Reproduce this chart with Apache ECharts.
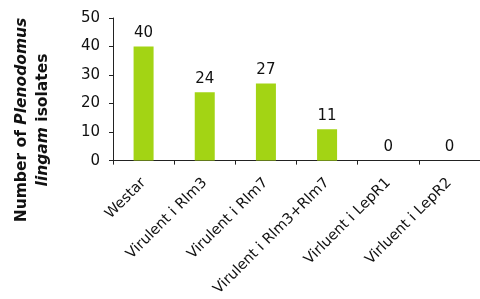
<!DOCTYPE html>
<html>
<head>
<meta charset="utf-8">
<script src="https://cdn.jsdelivr.net/npm/echarts@6/dist/echarts.min.js"></script>
<style>
  html, body { margin: 0; padding: 0; background: #fff; }
  #chart { width: 480px; height: 299px; }
</style>
</head>
<body>
<div id="chart"></div>
<script>
var categories = ['Westar', 'Virulent i Rlm3', 'Virulent i Rlm7', 'Virulent i Rlm3+Rlm7', 'Virluent i LepR1', 'Virluent i LepR2'];
var isolates = [40, 24, 27, 11, 0, 0];
var yTicks = [0, 50, 10];

var font = 'DejaVu Sans, Verdana, sans-serif';
var chart = echarts.init(document.getElementById('chart'));

var option = {
    backgroundColor: '#fff',
    animation: false,
    grid: {
        left: 113,
        top: 18,
        width: 378,
        height: 143
    },
    xAxis: {
        type: 'category',
        data: categories,
        axisLine: { lineStyle: { color: '#222', width: 1 } },
        axisTick: { show: true, length: 4, lineStyle: { color: '#222' } },
        axisLabel: {
            rotate: 45,
            interval: 0,
            color: '#111',
            fontFamily: font,
            fontSize: 14.5,
            margin: 20
        }
    },
    yAxis: {
        type: 'value',
        min: yTicks[0],
        max: yTicks[1],
        interval: yTicks[2],
        axisLine: { show: true, lineStyle: { color: '#222', width: 1 } },
        axisTick: { show: true, length: 4, lineStyle: { color: '#222' } },
        splitLine: { show: false },
        axisLabel: {
            color: '#111',
            fontFamily: font,
            fontSize: 15,
            margin: 13
        }
    },
    graphic: [{
        type: 'text',
        x: 32,
        y: 120,
        rotation: Math.PI / 2,
        style: {
            text: '{b|Number of }{bi|Plenodomus}\n{bi|lingam}{b| isolates}',
            align: 'center',
            verticalAlign: 'middle',
            rich: {
                b: { fontFamily: font, fontSize: 15.5, fontWeight: 'bold', fill: '#111', lineHeight: 21 },
                bi: { fontFamily: font, fontSize: 15.5, fontWeight: 'bold', fontStyle: 'italic', fill: '#111', lineHeight: 21 }
            }
        }
    }],
    series: [{
        type: 'bar',
        data: isolates,
        barWidth: 20,
        itemStyle: { color: '#a3d414' },
        label: {
            show: true,
            position: 'top',
            distance: 6,
            color: '#111',
            fontFamily: font,
            fontSize: 15
        }
    }]
};
chart.setOption(option);
</script>
</body>
</html>
